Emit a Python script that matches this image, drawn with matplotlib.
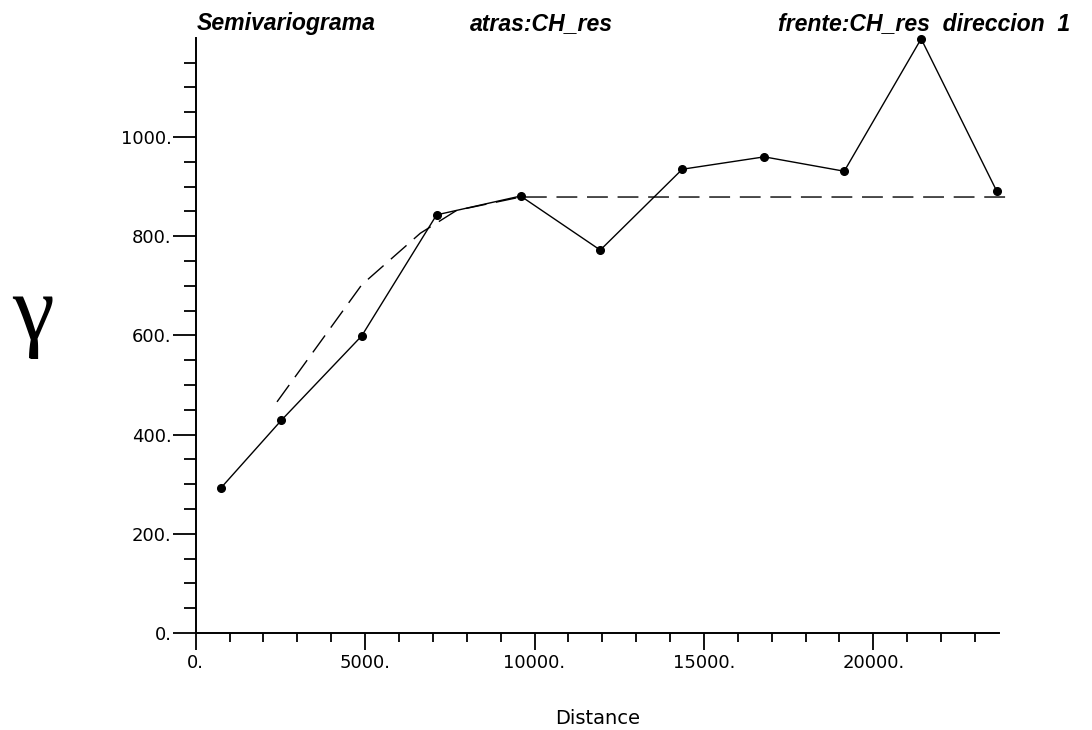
import matplotlib.pyplot as plt
from matplotlib.ticker import MultipleLocator, FixedLocator, FuncFormatter

# experimental semivariogram (lag distance, gamma)
lag = [740, 2530, 4900, 7110, 9590, 11940, 14360, 16780, 19140, 21410, 23640]
gamma = [292, 429, 599, 843, 881, 772, 935, 960, 931, 1198, 891]

# fitted model (dashed)
model_lag = [2400, 4900, 6630, 7700, 9590, 23950]
model_gamma = [466, 702, 806, 852, 879, 879]

y_major = [0, 200, 400, 600, 800, 1000]
y_minor = [v for v in range(50, 1200, 50) if v not in y_major]

title_parts = ["Semivariograma", "atras:CH_res", "frente:CH_res  direccion  1"]

fig = plt.figure(figsize=(10.92, 7.30), dpi=100)
ax = fig.add_axes([0.1792, 0.1329, 0.7354, 0.8153])

ax.plot(lag, gamma, color="black", lw=1.0, marker="o", ms=5.5, zorder=3,
        clip_on=False)
ax.plot(model_lag, model_gamma, color="black", lw=1.0, dashes=(15, 7),
        zorder=2, clip_on=False)

ax.set_xlim(0, 23700)
ax.set_ylim(0, 1200)
ax.spines["top"].set_visible(False)
ax.spines["right"].set_visible(False)
for s in ("left", "bottom"):
    ax.spines[s].set_linewidth(1.4)

ax.xaxis.set_major_locator(MultipleLocator(5000))
ax.xaxis.set_minor_locator(MultipleLocator(1000))
ax.yaxis.set_major_locator(FixedLocator(y_major))
ax.yaxis.set_minor_locator(FixedLocator(y_minor))
fmt = FuncFormatter(lambda v, p: f"{int(round(v))}.")
ax.xaxis.set_major_formatter(fmt)
ax.yaxis.set_major_formatter(fmt)

ax.tick_params(axis="x", which="major", length=12, width=1.3, pad=3, labelsize=13)
ax.tick_params(axis="x", which="minor", length=6.5, width=1.3)
ax.tick_params(axis="y", which="major", length=16.5, width=1.3, pad=1, labelsize=13)
ax.tick_params(axis="y", which="minor", length=9, width=1.3)

ax.set_xlabel("Distance", fontsize=14, labelpad=27)

fig.text(0.030, 0.566, "γ", fontsize=68, family="Liberation Serif",
         ha="center", va="center")

xs = [197, 470, 778]
for x, t in zip(xs, title_parts):
    fig.text(x / 1092, 1 - 30 / 730, t, fontsize=16.6, family="Liberation Sans",
             weight="bold", style="italic", ha="left", va="baseline")

fig.savefig("out.png", dpi=100)
